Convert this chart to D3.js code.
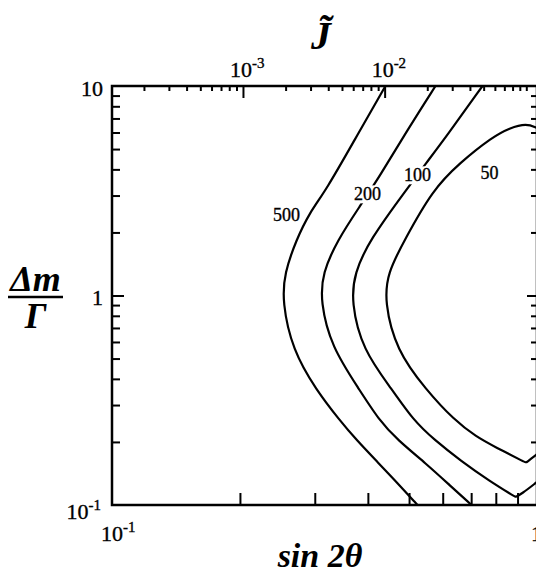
<!DOCTYPE html>
<html><head><meta charset="utf-8">
<script src="https://cdn.jsdelivr.net/npm/d3@7"></script>
<style>
html,body{margin:0;padding:0;background:#fff;}
svg{display:block;}
text{font-family:"Liberation Serif","Times New Roman",serif;fill:#000;}
.tl{stroke:#000;stroke-width:0.35px;}
.ti{font-style:italic;font-weight:bold;}
</style></head><body>
<svg id="c" width="536" height="574"></svg>
<script>
// ---- data (sin2θ, Δm/Γ) ----
const contourLevels = ["500", "200", "100", "50"];
const contour500 = [[0.440,10],[0.372,5.52],[0.3192,3.19],[0.2914,2.48],[0.2713,1.84],[0.2546,1.28],[0.2515,0.934],[0.2659,0.549],[0.3023,0.354],[0.343,0.2544],[0.376,0.2043],[0.4213,0.1604],[0.4696,0.1274],[0.5234,0.1]];
const contour200 = [[0.577,10],[0.4957,6.17],[0.4259,3.69],[0.3824,2.654],[0.3394,1.84],[0.3128,1.28],[0.3094,0.934],[0.328,0.5696],[0.3824,0.354],[0.4248,0.2544],[0.4696,0.2043],[0.5495,0.157],[0.6224,0.1246],[0.7012,0.1]];
const contour100 = [[0.7443,10],[0.6115,5.73],[0.5487,4.29],[0.4923,3.19],[0.4036,1.84],[0.372,1.28],[0.3654,0.934],[0.3886,0.549],[0.4571,0.354],[0.5113,0.2544],[0.5739,0.2043],[0.6626,0.1622],[0.7731,0.1302],[0.890,0.1092],[0.890,0.1092],[0.9194,0.1128],[1.0,0.1288]];
const contour50 = [[1.0,6.30],[0.9447,6.64],[0.8617,6.30],[0.787,5.73],[0.657,4.29],[0.5678,3.19],[0.4878,1.84],[0.4449,1.28],[0.4378,0.934],[0.4663,0.549],[0.5487,0.354],[0.6385,0.2544],[0.7192,0.2118],[0.7974,0.1891],[0.9421,0.1591],[0.9421,0.1591],[1.0,0.175]];
const contours = [contour500, contour200, contour100, contour50];
const labelSin2t = [0.2574, 0.3993, 0.5234, 0.7731];
const labelDmG = [2.42, 3.05, 3.76, 3.84];
const labelGap = [false, true, true, false];

const xMinorTicks = [0.2,0.3,0.4,0.5,0.6,0.7,0.8,0.9];
const yMinorTicks = [0.2,0.3,0.4,0.5,0.6,0.7,0.8,0.9,2,3,4,5,6,7,8,9];
const yMajorTicks = [1];
const jMajorTicks = [1e-3, 1e-2];
const jMinorTicks = [2e-4,3e-4,4e-4,5e-4,6e-4,7e-4,8e-4,9e-4,2e-3,3e-3,4e-3,5e-3,6e-3,7e-3,8e-3,9e-3,2e-2,3e-2,4e-2,5e-2,6e-2,7e-2,8e-2,9e-2,1e-1];
const jTickLabels = [["10","-3"],["10","-2"]];
const xTickLabels = [["10","-1"],["1",""]];
const xTickValues = [0.1, 1];
const yTickLabels = [["10",""],["1",""],["10","-1"]];
const yTickValues = [10, 1, 0.1];

// ---- layout ----
const svg = d3.select("#c");
const L = 112, R = 537, T = 86, B = 505;
const x = d3.scaleLog().domain([0.1, 1]).range([L, R]);
const y = d3.scaleLog().domain([0.1, 10]).range([B, T]);
const xTop = d3.scaleLog().domain([1.19e-4, 0.119]).range([L, R]);

svg.append("clipPath").attr("id","clip").append("rect")
  .attr("x", L).attr("y", T).attr("width", R - L).attr("height", B - T);

function styleAxis(g){ g.select(".domain").remove(); g.selectAll(".tick line").attr("stroke","#000").attr("stroke-width",2); g.selectAll(".tick text").remove(); }

svg.append("g").attr("transform",`translate(${L},0)`).call(d3.axisRight(y).tickValues(yMinorTicks).tickSize(8).tickFormat("")).call(styleAxis);
svg.append("g").attr("transform",`translate(${L},0)`).call(d3.axisRight(y).tickValues(yMajorTicks).tickSize(12).tickFormat("")).call(styleAxis);
svg.append("g").attr("transform",`translate(${R},0)`).call(d3.axisLeft(y).tickValues(yMinorTicks).tickSize(6).tickFormat("")).call(styleAxis);
svg.append("g").attr("transform",`translate(${R},0)`).call(d3.axisLeft(y).tickValues(yMajorTicks).tickSize(10).tickFormat("")).call(styleAxis);
svg.append("g").attr("transform",`translate(0,${B})`).call(d3.axisTop(x).tickValues(xMinorTicks).tickSize(12).tickFormat("")).call(styleAxis);
svg.append("g").attr("transform",`translate(0,${T})`).call(d3.axisBottom(xTop).tickValues(jMinorTicks).tickSize(5).tickFormat("")).call(styleAxis);
svg.append("g").attr("transform",`translate(0,${T})`).call(d3.axisBottom(xTop).tickValues(jMajorTicks).tickSize(12).tickFormat("")).call(styleAxis);

svg.append("rect").attr("x",L).attr("y",T).attr("width",R-L).attr("height",B-T)
  .attr("fill","none").attr("stroke","#000").attr("stroke-width",2.5);

// contours
const line = d3.line().x(d => x(d[0])).y(d => y(d[1])).curve(d3.curveBasis);
const cg = svg.append("g").attr("clip-path","url(#clip)");
cg.selectAll("path.c").data(contours).join("path").attr("class","c")
  .attr("d", line).attr("fill","none").attr("stroke","#000").attr("stroke-width",2.2);

// contour labels
contourLevels.forEach((lv, i) => {
  const px = x(labelSin2t[i]), py = y(labelDmG[i]);
  const t = svg.append("text").attr("class","tl").attr("x", px).attr("y", py).attr("dy","0.35em")
    .attr("text-anchor","middle").style("font-size","18px").text(lv);
  if (labelGap[i]) {
    const bb = t.node().getBBox();
    svg.insert("rect", () => t.node()).attr("x", bb.x - 1).attr("y", bb.y + 1)
      .attr("width", bb.width + 2).attr("height", bb.height - 2).attr("fill","#fff");
  }
});

function sup(sel, parts){
  sel.append("tspan").text(parts[0]);
  if (parts[1]) sel.append("tspan").attr("dy", -9).style("font-size","15px").text(parts[1]);
}
// top tick labels
jMajorTicks.forEach((v, i) => {
  svg.append("text").attr("class","tl").attr("x", xTop(v) - 13).attr("y", 77).style("font-size","22px").call(sup, jTickLabels[i]);
});
// bottom tick labels
xTickValues.forEach((v, i) => {
  svg.append("text").attr("class","tl").attr("x", x(v) - (i === 0 ? 11 : 6)).attr("y", 541).style("font-size","22px").call(sup, xTickLabels[i]);
});
// left tick labels
yTickValues.forEach((v, i) => {
  const off = [10, 9, 14][i];
  const t = svg.append("text").attr("class","tl").attr("y", y(v) + off).style("font-size","22px").call(sup, yTickLabels[i]);
  const w = t.node().getComputedTextLength();
  t.attr("x", (i === 2 ? 101 : 103) - w);
});

// axis titles
svg.append("text").attr("class","ti").attr("x", 321).attr("y", 49).attr("text-anchor","middle")
  .style("font-size","40px").text("J\u0303");
svg.append("text").attr("class","ti").attr("x", 320).attr("y", 567).attr("text-anchor","middle")
  .style("font-size","34px").text("sin 2θ");
svg.append("text").attr("class","ti").attr("x", 35.5).attr("y", 291).attr("text-anchor","middle")
  .style("font-size","36px").text("Δm");
svg.append("line").attr("x1", 8).attr("x2", 63).attr("y1", 297).attr("y2", 297)
  .attr("stroke","#000").attr("stroke-width",2.5);
svg.append("text").attr("class","ti").attr("x", 35.5).attr("y", 328).attr("text-anchor","middle")
  .style("font-size","36px").text("Γ");
</script>
</body></html>
